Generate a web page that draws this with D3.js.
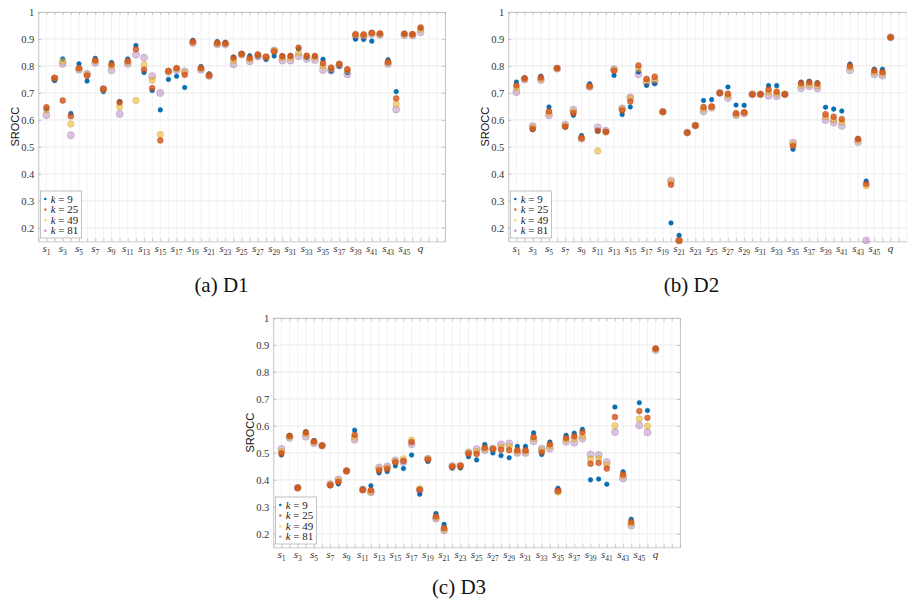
<!DOCTYPE html>
<html>
<head>
<meta charset="utf-8">
<script src="https://cdn.jsdelivr.net/npm/d3@7"></script>
<style>
body { margin: 0; background: #fff; }
text { font-family: "Liberation Serif", "DejaVu Serif", serif; fill: #333; }
</style>
</head>
<body>
<script>
// categorie sull'asse x (s1..s46 e q)
var categories = ["s1","s2","s3","s4","s5","s6","s7","s8","s9","s10",
  "s11","s12","s13","s14","s15","s16","s17","s18","s19","s20",
  "s21","s22","s23","s24","s25","s26","s27","s28","s29","s30",
  "s31","s32","s33","s34","s35","s36","s37","s38","s39","s40",
  "s41","s42","s43","s44","s45","s46","q"]

var kValues = [9, 25, 49, 81]
var yTicks = [0.2, 0.3, 0.4, 0.5, 0.6, 0.7, 0.8, 0.9, 1]

// D1
var d1_k9  = [0.640,0.746,0.826,0.624,0.808,0.744,0.828,0.705,0.813,0.668,0.826,0.876,0.776,0.709,0.637,0.750,0.762,0.720,0.895,0.798,0.771,0.890,0.888,0.833,0.846,0.838,0.836,0.824,0.837,0.838,0.838,0.862,0.831,0.836,0.825,0.781,0.799,0.776,0.899,0.898,0.892,0.918,0.823,0.705,0.918,0.918,0.940]
var d1_k25 = [0.647,0.756,0.672,0.614,0.792,0.764,0.821,0.715,0.806,0.665,0.818,0.862,0.786,0.718,0.524,0.782,0.792,0.767,0.890,0.792,0.765,0.885,0.884,0.830,0.845,0.830,0.843,0.834,0.854,0.836,0.837,0.868,0.838,0.837,0.810,0.794,0.808,0.788,0.918,0.917,0.923,0.921,0.815,0.680,0.920,0.918,0.943]
var d1_k49 = [0.637,0.755,0.817,0.585,0.790,0.768,0.818,0.713,0.800,0.649,0.815,0.672,0.805,0.747,0.546,0.780,0.790,0.776,0.888,0.790,0.765,0.883,0.882,0.820,0.842,0.825,0.840,0.833,0.855,0.830,0.830,0.848,0.835,0.832,0.800,0.790,0.806,0.783,0.915,0.912,0.921,0.918,0.813,0.659,0.918,0.916,0.935]
var d1_k81 = [0.618,0.752,0.808,0.543,0.786,0.771,0.812,0.715,0.784,0.622,0.808,0.842,0.831,0.762,0.700,0.778,0.785,0.780,0.885,0.786,0.763,0.880,0.880,0.806,0.842,0.817,0.835,0.832,0.858,0.820,0.820,0.836,0.826,0.822,0.785,0.783,0.802,0.769,0.910,0.910,0.918,0.915,0.808,0.639,0.914,0.913,0.925]

// D2
var d2_k9  = [0.740,0.756,0.564,0.762,0.648,0.792,0.573,0.617,0.542,0.734,0.558,0.555,0.765,0.620,0.648,0.778,0.728,0.734,0.630,0.218,0.172,0.553,0.579,0.672,0.675,0.700,0.722,0.655,0.654,0.695,0.695,0.727,0.727,0.695,0.491,0.740,0.743,0.738,0.647,0.640,0.633,0.807,0.530,0.373,0.788,0.788,0.906]
var d2_k25 = [0.728,0.754,0.566,0.757,0.632,0.792,0.575,0.625,0.533,0.726,0.560,0.556,0.782,0.635,0.668,0.802,0.752,0.760,0.630,0.360,0.153,0.553,0.579,0.648,0.650,0.700,0.697,0.625,0.628,0.695,0.695,0.713,0.705,0.695,0.503,0.736,0.740,0.735,0.621,0.612,0.603,0.800,0.530,0.363,0.783,0.778,0.906]
var d2_k49 = [0.718,0.752,0.572,0.752,0.625,0.791,0.578,0.631,0.532,0.724,0.485,0.555,0.785,0.640,0.680,0.790,0.745,0.750,0.630,0.370,0.153,0.553,0.579,0.640,0.648,0.700,0.690,0.620,0.627,0.695,0.695,0.703,0.698,0.695,0.510,0.728,0.732,0.726,0.612,0.600,0.592,0.795,0.525,0.356,0.777,0.772,0.906]
var d2_k81 = [0.703,0.750,0.577,0.748,0.617,0.790,0.583,0.638,0.530,0.722,0.572,0.560,0.788,0.643,0.684,0.769,0.740,0.741,0.630,0.375,0.153,0.553,0.579,0.631,0.645,0.700,0.681,0.618,0.624,0.695,0.695,0.690,0.688,0.695,0.516,0.718,0.725,0.717,0.600,0.590,0.578,0.784,0.518,0.153,0.769,0.764,0.906]

// D3
var d3_k9  = [0.492,0.565,0.372,0.578,0.546,0.527,0.378,0.385,0.433,0.584,0.367,0.378,0.426,0.431,0.452,0.442,0.492,0.347,0.468,0.275,0.235,0.443,0.444,0.486,0.474,0.531,0.500,0.490,0.482,0.524,0.524,0.574,0.494,0.540,0.369,0.565,0.573,0.587,0.400,0.403,0.384,0.670,0.430,0.254,0.686,0.657,0.887]
var d3_k25 = [0.498,0.563,0.370,0.576,0.543,0.527,0.380,0.392,0.433,0.567,0.362,0.362,0.435,0.440,0.465,0.470,0.540,0.363,0.475,0.265,0.222,0.449,0.452,0.497,0.496,0.520,0.514,0.512,0.510,0.510,0.510,0.559,0.502,0.532,0.360,0.556,0.562,0.577,0.460,0.463,0.442,0.633,0.420,0.244,0.655,0.630,0.887]
var d3_k49 = [0.505,0.560,0.370,0.570,0.540,0.527,0.382,0.397,0.433,0.558,0.363,0.356,0.440,0.445,0.468,0.478,0.548,0.367,0.478,0.260,0.218,0.450,0.452,0.500,0.505,0.515,0.515,0.522,0.524,0.505,0.505,0.553,0.510,0.525,0.355,0.550,0.552,0.563,0.477,0.478,0.455,0.601,0.415,0.238,0.626,0.600,0.885]
var d3_k81 = [0.515,0.556,0.371,0.560,0.536,0.527,0.384,0.402,0.433,0.549,0.364,0.354,0.446,0.450,0.472,0.466,0.532,0.362,0.478,0.256,0.213,0.451,0.452,0.502,0.514,0.510,0.516,0.532,0.535,0.500,0.500,0.543,0.516,0.516,0.358,0.541,0.538,0.553,0.494,0.492,0.466,0.577,0.405,0.230,0.602,0.576,0.881]

var width = 907
var height = 604
var plotW = 406.7
var plotH = 229.3

// colori stile MATLAB, uno per ogni k
var colors = ["#0072BD", "#D95319", "#EDB120", "#7E2F8E"]
var alphas = [1, 0.8, 0.55, 0.28]
var radius = [2.3, 2.9, 3.2, 3.6]
var drawOrder = [0, 3, 2, 1]

var panels = [
  {left: 38.3, top: 12, caption: "(a) D1", capX: 221.5, capY: 292, series: [d1_k9, d1_k25, d1_k49, d1_k81]},
  {left: 508.3, top: 12, caption: "(b) D2", capX: 691.5, capY: 292, series: [d2_k9, d2_k25, d2_k49, d2_k81]},
  {left: 273.3, top: 318, caption: "(c) D3", capX: 459, capY: 594, series: [d3_k9, d3_k25, d3_k49, d3_k81]}
]

var svg = d3.select("body").append("svg")
    .attr("width", width)
    .attr("height", height)

var x = d3.scaleLinear().domain([0, categories.length + 3]).range([0, plotW])
var y = d3.scaleLinear().domain([0.15, 1]).range([plotH, 0])
var allTicks = d3.range(0, categories.length + 4)

function drawPanel(p) {
    var g = svg.append("g").attr("transform", "translate(" + p.left + "," + p.top + ")")

    // griglia
    g.append("g").selectAll("line").data(allTicks).enter().append("line")
        .attr("x1", function(d){ return x(d) }).attr("x2", function(d){ return x(d) })
        .attr("y1", 0).attr("y2", plotH)
        .style("stroke", "#ececec").style("stroke-width", 0.7)
    g.append("g").selectAll("line").data(yTicks).enter().append("line")
        .attr("x1", 0).attr("x2", plotW)
        .attr("y1", function(d){ return y(d) }).attr("y2", function(d){ return y(d) })
        .style("stroke", "#e6e6e6").style("stroke-width", 0.8)

    // assi con tacche verso l'interno
    var left = g.append("g").call(d3.axisLeft(y).tickValues(yTicks).tickSizeInner(-3).tickSizeOuter(0).tickPadding(4)
        .tickFormat(function(d){ return d == 1 ? "1" : d.toFixed(1) }))
    var right = g.append("g").attr("transform", "translate(" + plotW + ",0)")
        .call(d3.axisRight(y).tickValues(yTicks).tickSizeInner(-3).tickSizeOuter(0).tickFormat(""))
    var top = g.append("g").call(d3.axisTop(x).tickValues(allTicks).tickSizeInner(-3).tickSizeOuter(0).tickFormat(""))
    var bottom = g.append("g").attr("transform", "translate(0," + plotH + ")")
        .call(d3.axisBottom(x).tickValues(allTicks).tickSizeInner(-3).tickSizeOuter(0).tickFormat(""))
    ;[left, right, top, bottom].forEach(function(a){
        a.select(".domain").style("stroke", "#bdbdbd").style("stroke-width", 0.8)
        a.selectAll(".tick line").style("stroke", "#a8a8a8").style("stroke-width", 0.6)
    })
    left.selectAll("text").style("font-size", "10.5px").style("font-family", "Liberation Serif").style("fill", "#333")

    // etichette x: una ogni due categorie
    var labels = categories.map(function(c, i){ return {c: c, i: i} }).filter(function(d){ return d.i % 2 == 0 })
    g.append("g").selectAll("text").data(labels).enter().append("text")
        .attr("x", function(d){ return x(d.i + 1) })
        .attr("y", plotH + 11)
        .attr("text-anchor", "middle")
        .style("font-size", "11px")
        .each(function(d){
            var t = d3.select(this)
            t.append("tspan").style("font-style", "italic").text(d.c[0])
            if (d.c.length > 1) t.append("tspan").attr("dy", 2.5).style("font-size", "7.5px").text(d.c.slice(1))
        })

    // titolo asse y
    g.append("text")
        .attr("transform", "translate(-19," + (plotH / 2) + ") rotate(-90)")
        .attr("text-anchor", "middle")
        .style("font-family", "Liberation Sans, Arial, sans-serif")
        .style("font-size", "11px").style("fill", "#111")
        .text("SROCC")

    // punti, dal k piu grande al piu piccolo tranne il blu
    drawOrder.forEach(function(k){
        g.append("g").selectAll("circle").data(p.series[k]).enter().append("circle")
            .attr("cx", function(d, i){ return x(i + 1) })
            .attr("cy", function(d){ return y(d) })
            .attr("r", radius[k])
            .style("fill", colors[k])
            .style("fill-opacity", alphas[k])
            .style("stroke", d3.color(colors[k]).darker(0.6))
            .style("stroke-opacity", Math.min(1, alphas[k] + 0.1))
            .style("stroke-width", 0.5)
    })

    // legenda
    var lg = g.append("g").attr("transform", "translate(2," + (plotH - 50.3) + ")")
    lg.append("rect").attr("width", 41.4).attr("height", 47)
        .style("fill", "#fff").style("stroke", "#9a9a9a").style("stroke-width", 0.6)
    kValues.forEach(function(k, j){
        var yy = 8 + j * 10.6
        lg.append("circle").attr("cx", 5).attr("cy", yy).attr("r", 1.3)
            .style("fill", colors[j]).style("fill-opacity", Math.max(alphas[j], 0.5))
        var t = lg.append("text").attr("x", 10.4).attr("y", yy + 3.5).style("font-size", "11px").style("fill", "#222")
        t.append("tspan").style("font-style", "italic").text("k")
        t.append("tspan").text(" = " + k)
    })

    // didascalia
    svg.append("text")
        .attr("x", p.capX).attr("y", p.capY)
        .attr("text-anchor", "middle")
        .style("font-size", "21px").style("fill", "#111")
        .text(p.caption)
}

panels.forEach(drawPanel)
</script>
</body>
</html>
